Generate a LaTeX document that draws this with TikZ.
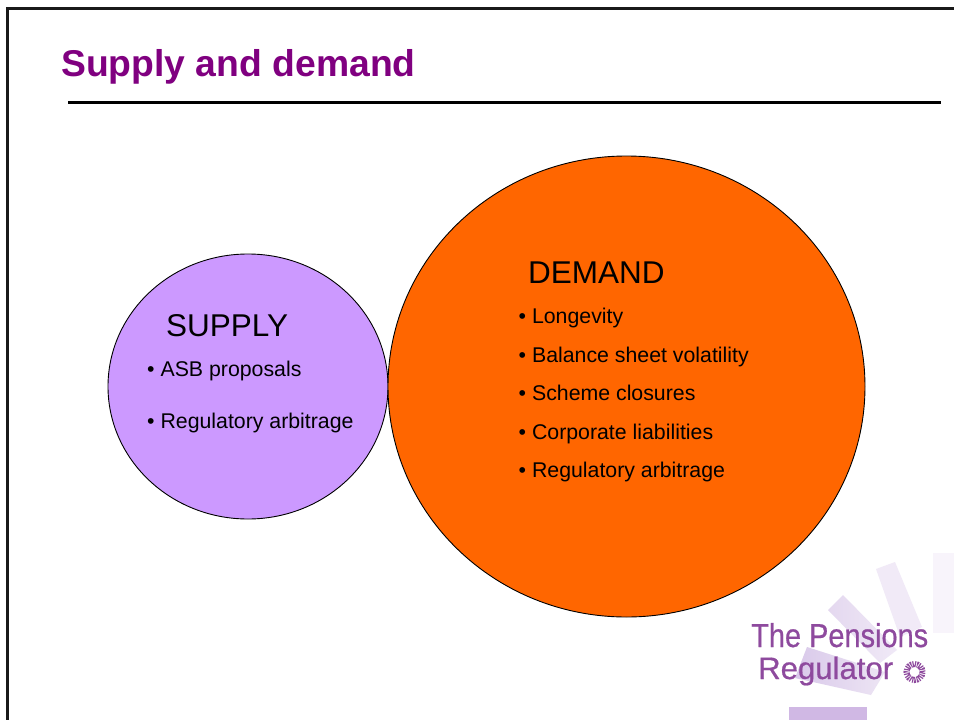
\documentclass[tikz,border=0pt]{standalone}
\usepackage{fontspec}
\setmainfont{Liberation Sans}
\newfontfamily\logofont[FakeBold=0.6]{Liberation Sans}
\usetikzlibrary{shapes.geometric}
\definecolor{titlepurple}{HTML}{800080}
\definecolor{supplyfill}{HTML}{CC99FF}
\definecolor{demandfill}{HTML}{FF6600}
\definecolor{logotext}{HTML}{8E4A9E}
\definecolor{rayA}{HTML}{F8F4FB}
\definecolor{rayB}{HTML}{F1EAF7}
\definecolor{rayC}{HTML}{E4D8EF}
\definecolor{rayCend}{HTML}{F0E9F7}
\definecolor{rayD}{HTML}{D9C9EA}
\definecolor{rayDend}{HTML}{EDE5F4}
\definecolor{rayE}{HTML}{D0B8E4}
\tikzset{
  bubble/.style={ellipse,draw=black,line width=0.9pt,inner sep=0pt},
  head/.style={anchor=base west,font=\fontsize{31.5}{36}\selectfont,inner sep=0pt},
  item/.style={anchor=base west,font=\fontsize{21.3}{25}\selectfont,inner sep=0pt},
  logo/.style={anchor=base west,inner sep=0pt,text=logotext,font=\logofont\fontsize{28}{30}\selectfont}
}
\begin{document}
\begin{tikzpicture}[x=1pt,y=-1pt]
\useasboundingbox (0,0) rectangle (954,720);
\fill[white] (0,0) rectangle (954,720);
% rays of the logo
\fill[rayA] (933,553) -- (954,553) -- (954,633) -- (933,633) -- cycle;
\fill[rayB] (876,569) -- (895,562) -- (922,627) -- (900,637) -- cycle;
\shade[left color=rayC,right color=rayCend] (828,610) -- (843,595) -- (897,650) -- (880,663) -- cycle;
\shade[left color=rayD,right color=rayDend] (807,647) -- (885,672) -- (871,695) -- (795,678) -- cycle;
\fill[rayE] (789,707) rectangle (867,720);
% frame
\draw[line width=2.6pt,color=black!90] (7.5,720) -- (7.5,8.5) -- (954,8.5);
% title
\node[anchor=base west,inner sep=0pt,text=titlepurple,font=\bfseries\fontsize{37.3}{42}\selectfont] (title) at (61,76) {Supply and demand};
\coordinate (ruleL) at (68,102.5);
\coordinate (ruleR) at (941,102.5);
\draw[line width=3pt] (ruleL) -- (ruleR);
% circles
\node[bubble,fill=supplyfill,minimum width=280pt,minimum height=265pt] (supply) at (248,386.5) {};
\node[bubble,fill=demandfill,minimum width=477pt,minimum height=461pt] (demand) at (626.5,386.5) {};
% supply text
\node[head] (supplyhead) at (166,336) {SUPPLY};
\node[item] (s1) at (147,376) {\textbullet\ ASB proposals};
\node[item] (s2) at (147,428) {\textbullet\ Regulatory arbitrage};
% demand text
\node[head] (demandhead) at (528,283) {DEMAND};
\node[item] (d1) at (518.5,323) {\textbullet\ Longevity};
\node[item] (d2) at (518.5,362) {\textbullet\ Balance sheet volatility};
\node[item] (d3) at (518.5,400) {\textbullet\ Scheme closures};
\node[item] (d4) at (518.5,439) {\textbullet\ Corporate liabilities};
\node[item] (d5) at (518.5,477) {\textbullet\ Regulatory arbitrage};
% logo
\node[logo] (logoa) at (751,647) {\resizebox{177pt}{24pt}{The Pensions}};
\node[logo] (logob) at (758,679) {\resizebox{135pt}{22.5pt}{Regulator}};
\node[circle,draw=logotext,dash pattern=on 1.2pt off 1pt,line width=6pt,minimum size=16pt,inner sep=0pt] (sun) at (914.5,672) {};
\end{tikzpicture}
\end{document}
